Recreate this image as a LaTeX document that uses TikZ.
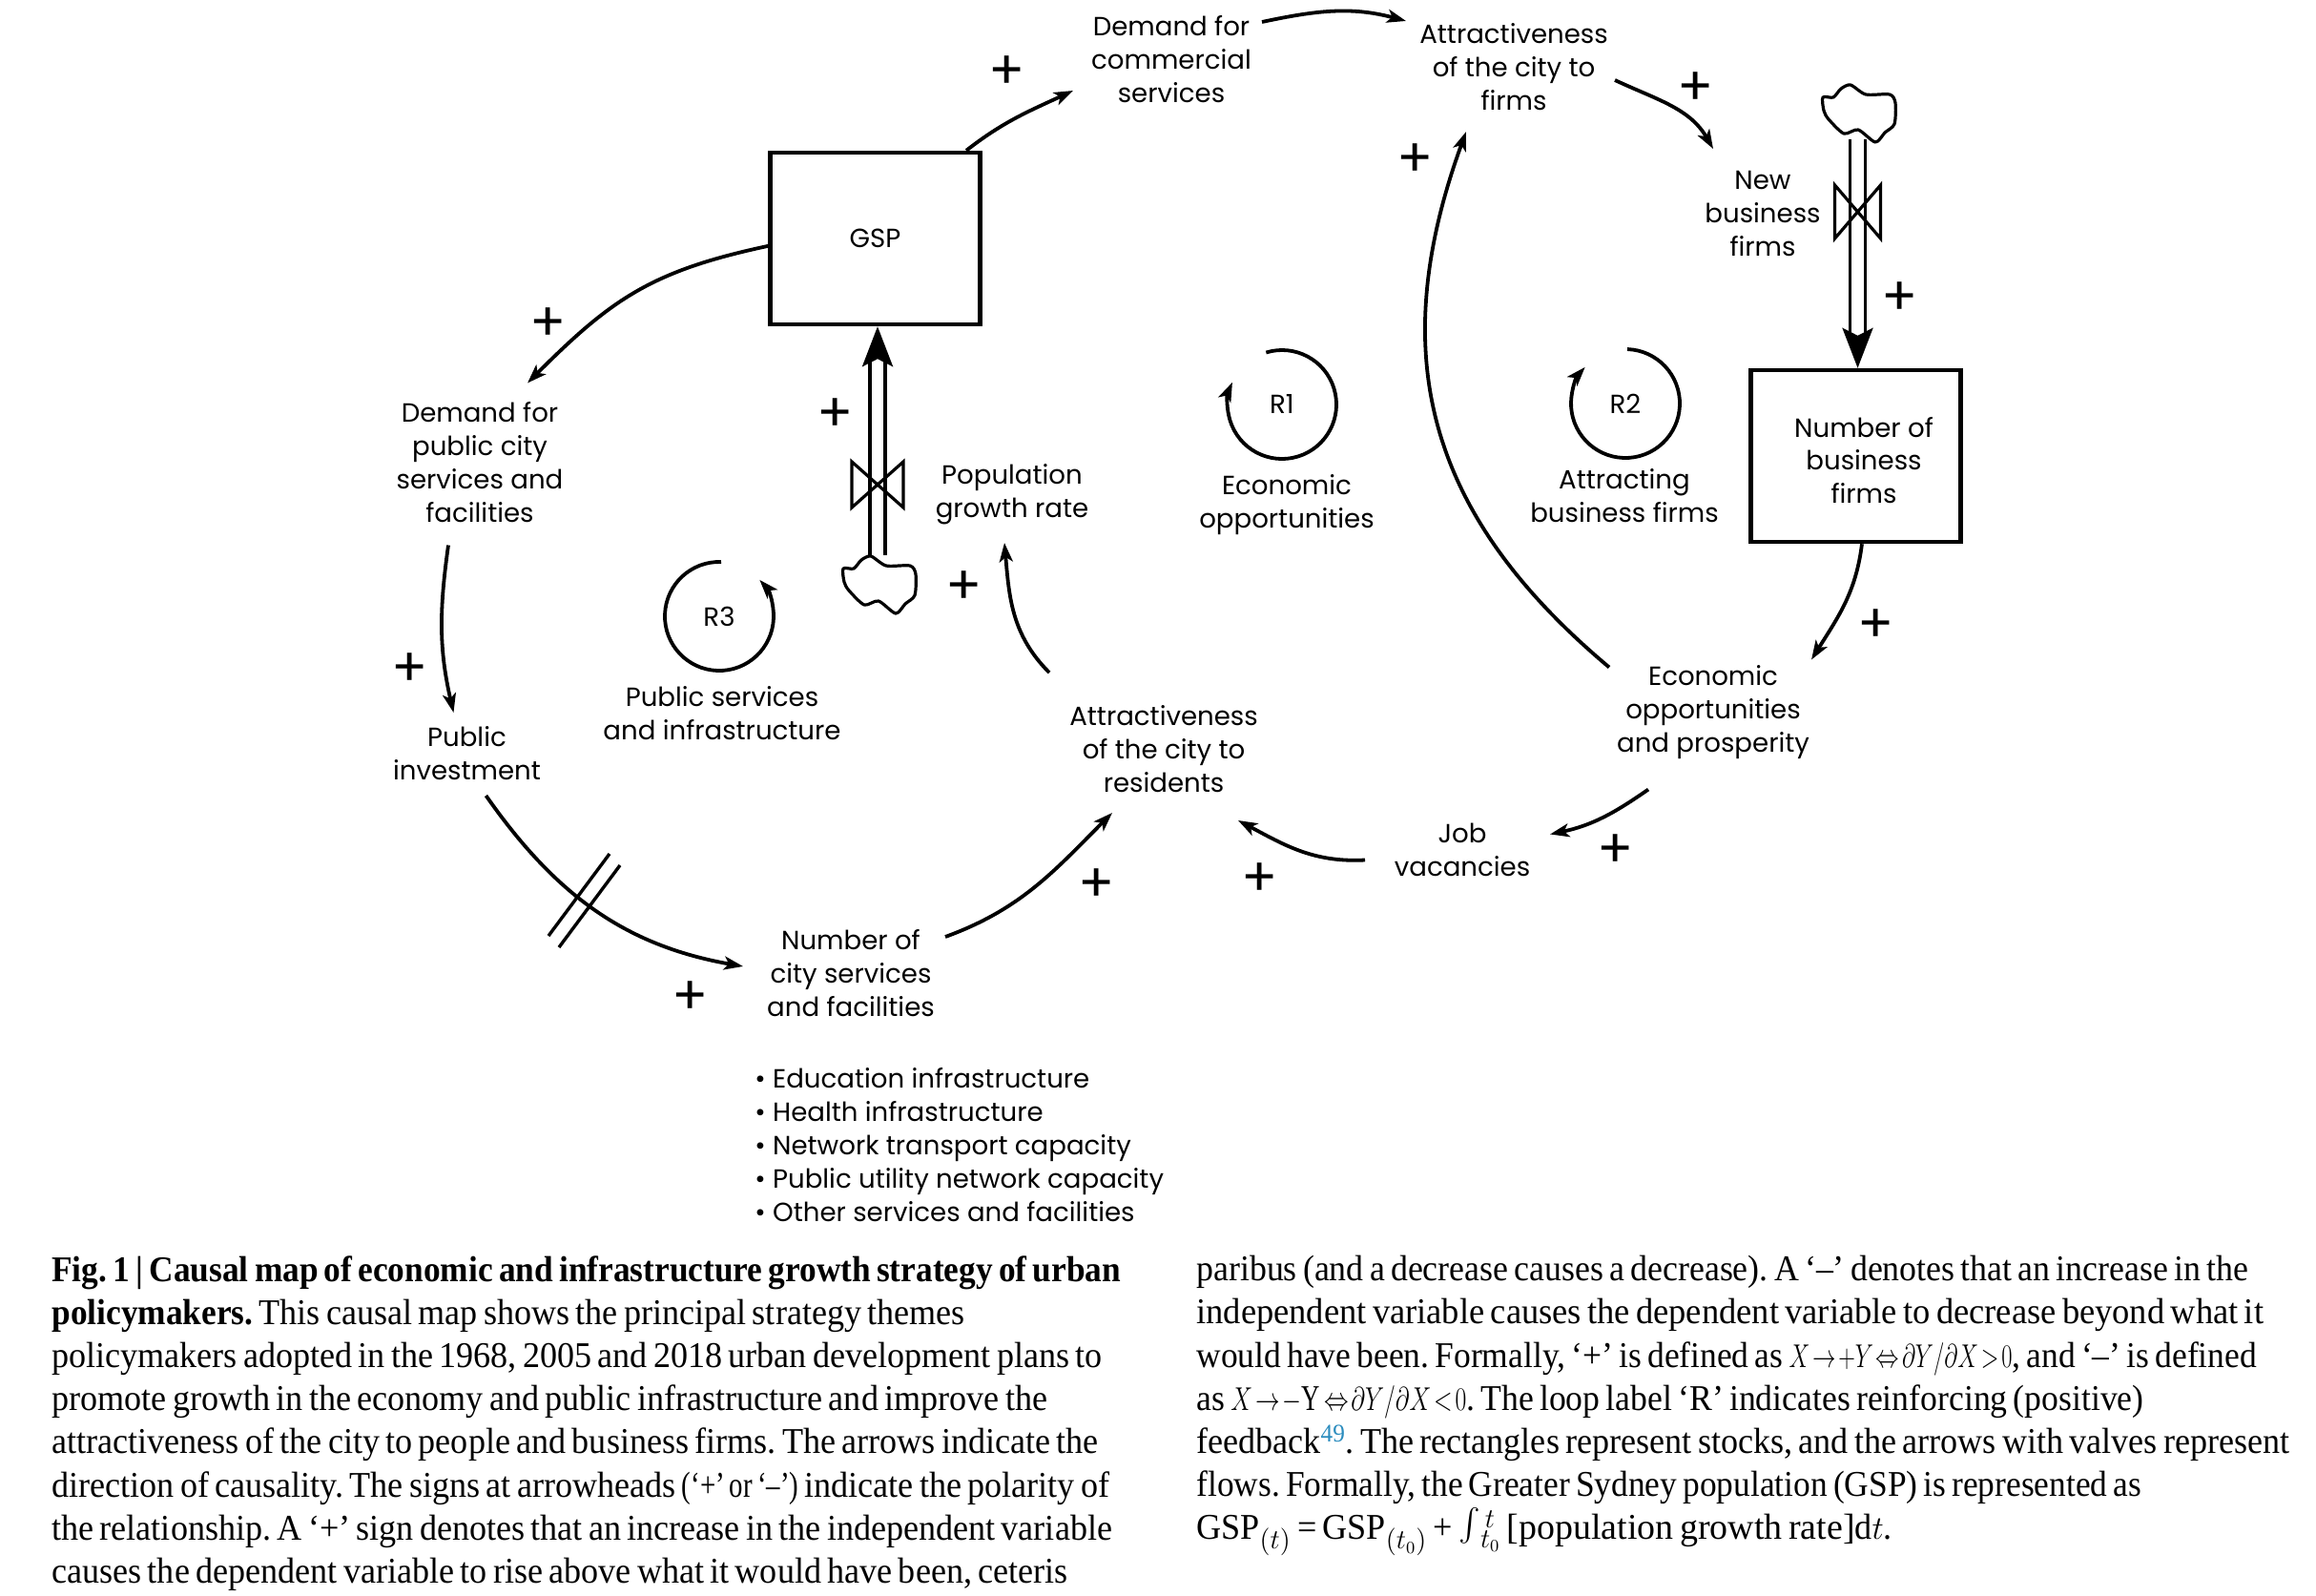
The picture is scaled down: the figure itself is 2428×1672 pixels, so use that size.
\documentclass[tikz,border=0pt]{standalone}
\usepackage{fontspec}
\usepackage{xcolor}
\usetikzlibrary{arrows.meta, calc}
\newfontfamily\mapfont{Poppins}
\newfontfamily\capfont[UprightFeatures={FakeStretch=0.95},BoldFeatures={FakeStretch=0.93},WordSpace=0.7]{Liberation Serif}
\definecolor{refblue}{HTML}{2B8CBE}
\newcommand{\narrowed}[2]{\scalebox{#1}[1]{#2}}
\tikzset{
    varnode/.style={align=center, inner sep=0pt, font=\mapfont\fontsize{13.8}{17.4}\selectfont},
    stocknode/.style={varnode, draw, line width=2.2pt, minimum width=110pt, minimum height=90pt},
    signnode/.style={inner sep=0pt, yshift=-2pt, font=\mapfont\fontsize{28}{28}\selectfont},
    causal/.style={line width=1.9pt, -{Stealth[length=10pt, width=7pt, inset=2.5pt]}},
    flowline/.style={line width=1.8pt, double distance=6.2pt, -{Stealth[length=21pt, width=16pt, inset=4pt]}},
    valveline/.style={line width=1.6pt, line join=miter},
    capnode/.style={align=left, anchor=north west, inner sep=0pt, font=\capfont\frenchspacing\fontsize{19}{22.6}\selectfont},
}
\begin{document}
\begin{tikzpicture}[x=.5pt, y=.5pt]
    \useasboundingbox (0,-1672) rectangle (2428,0);

    % Stocks.
    \node[stocknode] (gsp) at (917.5,-250) {GSP};
    \node[stocknode] (firmstock) at (1945.5,-478) {};
    \node[varnode] (firmtext) at (1954,-482.5) {Number of\\business\\firms};

    % Variables.
    \node[varnode] (commercial) at (1228,-62) {Demand for\\commercial\\services};
    \node[varnode] (attrfirms) at (1587,-70) {Attractiveness\\of the city to\\firms};
    \node[varnode] (newfirms) at (1848,-224) {New\\business\\firms};
    \node[varnode] (demandpublic) at (503,-484.5) {Demand for\\public city\\services and\\facilities};
    \node[varnode] (popgrowth) at (1061,-518) {Population\\growth rate};
    \node[varnode] (pubinvest) at (489.5,-790) {Public\\investment};
    \node[varnode] (attrres) at (1220,-785) {Attractiveness\\of the city to\\residents};
    \node[varnode] (prosperity) at (1796,-746.5) {Economic\\opportunities\\and prosperity};
    \node[varnode] (jobs) at (1533,-890.5) {Job\\vacancies};
    \node[varnode] (citynum) at (892,-1020) {Number of\\city services\\and facilities};

    % Loops.
    \node[varnode] (rone) at (1344,-424) {R1};
    \node[varnode] (ronetext) at (1349,-529) {Economic\\opportunities};
    \node[varnode] (rtwo) at (1704,-423) {R2};
    \node[varnode] (rtwotext) at (1703,-520) {Attracting\\business firms};
    \node[varnode] (rthree) at (754,-646) {R3};
    \node[varnode] (rthreetext) at (757,-748) {Public services\\and infrastructure};
    \draw[causal] (rone) ++(107:57) arc[start angle=107, end angle=-204, radius=57];
    \draw[causal] (rtwo) ++(88:57) arc[start angle=88, end angle=-222, radius=57];
    \draw[causal] (rthree) ++(88:57) arc[start angle=88, end angle=402, radius=57];

    % List.
    \node[varnode, align=left, anchor=west] (citylist) at (791,-1200) {%
        • Education infrastructure\\• Health infrastructure\\• Network transport capacity\\%
        • Public utility network capacity\\• Other services and facilities};

    % Flows.
    \coordinate (flowgsp) at (920,-582);
    \coordinate (flowfirm) at (1947.5,-146);
    \draw[flowline] (flowgsp) -- (flowgsp |- gsp.south);
    \draw[flowline] (flowfirm) -- (flowfirm |- firmstock.north);

    % Clouds and valves.
    \coordinate (cloudgsp) at (922,-613);
    \coordinate (cloudfirm) at (1949,-119);
    \foreach \c in {cloudgsp, cloudfirm}
    {
        \draw[valveline, line join=round, fill=white] plot[smooth cycle, tension=.45] coordinates
            {($(\c)+(-38,17)$) ($(\c)+(-27,17)$) ($(\c)+(-19,26)$) ($(\c)+(-9,30)$) ($(\c)+(7,20)$)
             ($(\c)+(32,20)$) ($(\c)+(38,11)$) ($(\c)+(37,-11)$) ($(\c)+(27,-20)$) ($(\c)+(17,-30)$)
             ($(\c)+(-1,-17)$) ($(\c)+(-16,-21)$) ($(\c)+(-32,-6)$) ($(\c)+(-37,3)$)};
    }
    \coordinate (valvegsp) at (920,-508);
    \coordinate (valvefirm) at (1947.5,-222);
    \draw[valveline] (valvegsp) ++(-27,24) -- ++(54,-48) -- ++(0,48) -- ++(-54,-48) -- cycle;
    \draw[valveline] (valvefirm) ++(-24,28) -- ++(48,-56) -- ++(0,56) -- ++(-48,-56) -- cycle;

    % Causal links.
    \draw[causal] (gsp.44) to[out=38, in=205] ([shift={(-103,-33)}]commercial.center);
    \draw[causal] ([shift={(95,39)}]commercial.center) to[out=12, in=165] ([shift={(-113,48)}]attrfirms.center);
    \draw[causal] ([shift={(106,-14)}]attrfirms.center) to[out=-25, in=120] ([shift={(-52,68)}]newfirms.center);
    \draw[causal, looseness=1.1] (gsp.184) to[out=192, in=45] ([shift={(50,83)}]demandpublic.center);
    \draw[causal] ([shift={(-33,-87)}]demandpublic.center) to[out=262, in=103] ([shift={(-14,43)}]pubinvest.center);
    \draw[causal] ([shift={(20,-44)}]pubinvest.center) to[out=-55, in=170] ([shift={(-113,7)}]citynum.center);
    \draw[causal] ([shift={(99,38)}]citynum.center) to[out=20, in=225] ([shift={(-54,-67)}]attrres.center);
    \draw[causal] ([shift={(-120,80)}]attrres.center) to[out=135, in=-85] ([shift={(-8,-51)}]popgrowth.center);
    \draw[causal, looseness=1.1] ([shift={(-109,47)}]prosperity.center) to[out=140, in=-110] ([shift={(-50,-68)}]attrfirms.center);
    \draw[causal] (firmstock.-86) to[out=-97, in=58] ([shift={(103,55)}]prosperity.center);
    \draw[causal] ([shift={(-68,-81)}]prosperity.center) to[out=215, in=12] ([shift={(92,16)}]jobs.center);
    \draw[causal] ([shift={(-102,-11)}]jobs.center) to[out=183, in=-28] ([shift={(78,-75)}]attrres.center);

    % Delay mark.
    \coordinate (delayone) at (607,-938);
    \coordinate (delaytwo) at (618,-950);
    \draw[line width=1.7pt] (delayone) ++(-32,-43) -- ++(64,86);
    \draw[line width=1.7pt] (delaytwo) ++(-32,-43) -- ++(64,86);

    % Signs.
    \foreach \sx/\sy [count=\i] in {1056/72, 1778/89, 1484/164, 1992/309, 1967/652, 1694/888, 1321/918,
        1150/924, 724/1042, 430/698, 575/336, 876/431, 1011/612}
    {
        \node[signnode] (sign\i) at (\sx,-\sy) {+};
    }

    % Caption.
    \node[capnode] (capleft) at (54,-1316) {%
        \textbf{Fig.\,1\,|\,Causal map of economic and infrastructure growth strategy of urban}\\
        \textbf{policymakers.} This causal map shows the principal strategy themes\\
        policymakers adopted in the 1968, 2005 and 2018 urban development plans to\\
        promote growth in the economy and public infrastructure and improve the\\
        attractiveness of the city to people and business firms. The arrows indicate the\\
        direction of causality. The signs at arrowheads \narrowed{.8}{(‘+’ or ‘–’)} indicate the polarity of\\
        the relationship. A ‘+’ sign denotes that an increase in the independent variable\\
        causes the dependent variable to rise above what it would have been, ceteris};
    \node[capnode] (capright) at (1254,-1316) {%
        \narrowed{.992}{paribus (and a decrease causes a decrease). A ‘–’ denotes that an increase in the}\\
        \narrowed{1.01}{independent variable causes the dependent variable to decrease beyond what it}\\
        \narrowed{.983}{would have been. Formally, ‘+’ is defined as \narrowed{.72}{$X\!\rightarrow\!+Y\!\Leftrightarrow\!\partial Y/\partial X\!>\!0$}, and ‘–’ is defined}\\
        \narrowed{.988}{as \narrowed{.75}{$X\!\rightarrow\!-$Y$\,\Leftrightarrow\!\partial Y/\partial X\!<\!0$}. The loop label ‘R’ indicates reinforcing (positive)}\\
        feedback\textsuperscript{\textcolor{refblue}{49}}. The rectangles represent stocks, and the arrows with valves represent\\
        \narrowed{.98}{flows. Formally, the Greater Sydney population (GSP) is represented as}\\
        GSP$_{(t)}$ = GSP$_{(t_0)}$ + \scalebox{1.7}{$\int$}$_{t_0}^{\,t}$\,\narrowed{1.05}{[population growth rate]}d$t$.};
\end{tikzpicture}
\end{document}
